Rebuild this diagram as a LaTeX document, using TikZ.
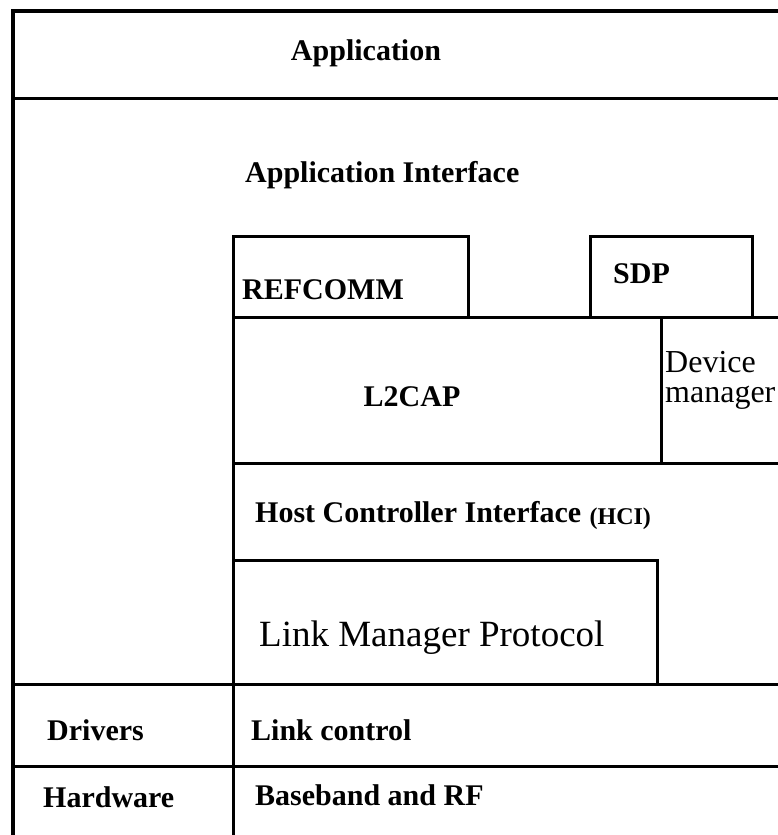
\documentclass[tikz,border=0pt]{standalone}
\usepackage{fontspec}
\setmainfont{Liberation Serif}
\begin{document}
\begin{tikzpicture}[x=1pt, y=-1pt,
      linea/.style={black, line width=3pt},
      capa/.style={font=\fontsize{30}{34}\selectfont\bfseries, anchor=base west, inner sep=0pt},
      capaFina/.style={font=\fontsize{32}{30}\selectfont, anchor=base west, inner sep=0pt}
    ]
    \useasboundingbox (0,0) rectangle (778,835);
    \clip (0,0) rectangle (778,835);

    % --- (a) Outer frame and rows ---
    \draw[linea, line width=3.5pt] (13,850) -- (13,11) -- (800,11);
    \draw[linea] (13,98) -- (800,98);
    \draw[linea] (13,684) -- (800,684);
    \draw[linea] (13,766) -- (800,766);
    \draw[linea] (233,236) -- (233,850);

    % --- (b) Host stack ---
    \draw[linea] (233,317) |- (468,236) -- (468,317);
    \draw[linea] (590,317) |- (752,236) -- (752,317);
    \draw[linea] (233,317) -- (800,317);
    \draw[linea] (661,317) -- (661,463);
    \draw[linea] (233,463) -- (800,463);
    \draw[linea] (233,560) -| (657,684);

    % --- (c) Labels ---
    \node[capa, anchor=base] (app) at (366,60) {Application};
    \node[capa] (appIf) at (245,182) {Application Interface};
    \node[capa] (rfcomm) at (242,299) {REFCOMM};
    \node[capa] (sdp) at (613,283) {SDP};
    \node[capa, anchor=base] (l2cap) at (412,406) {L2CAP};
    \node[capaFina] (devMgr) at (665,372) {Device};
    \node[capaFina] (devMgr2) at ([yshift=-30pt]devMgr.base west) {manager};
    \node[capa] (hci) at (255,522) {Host Controller Interface};
    \node[capa, font=\fontsize{24}{28}\selectfont\bfseries] (hciAbr) at ([xshift=8pt, yshift=-2pt]hci.base east) {(HCI)};
    \node[capaFina, font=\fontsize{37}{40}\selectfont] (lmp) at (259,646) {Link Manager Protocol};
    \node[capa] (drv) at (47,740) {Drivers};
    \node[capa] (lc) at (251,740) {Link control};
    \node[capa] (hw) at (43,807) {Hardware};
    \node[capa] (bb) at (255,805) {Baseband and RF};
  \end{tikzpicture}
\end{document}
